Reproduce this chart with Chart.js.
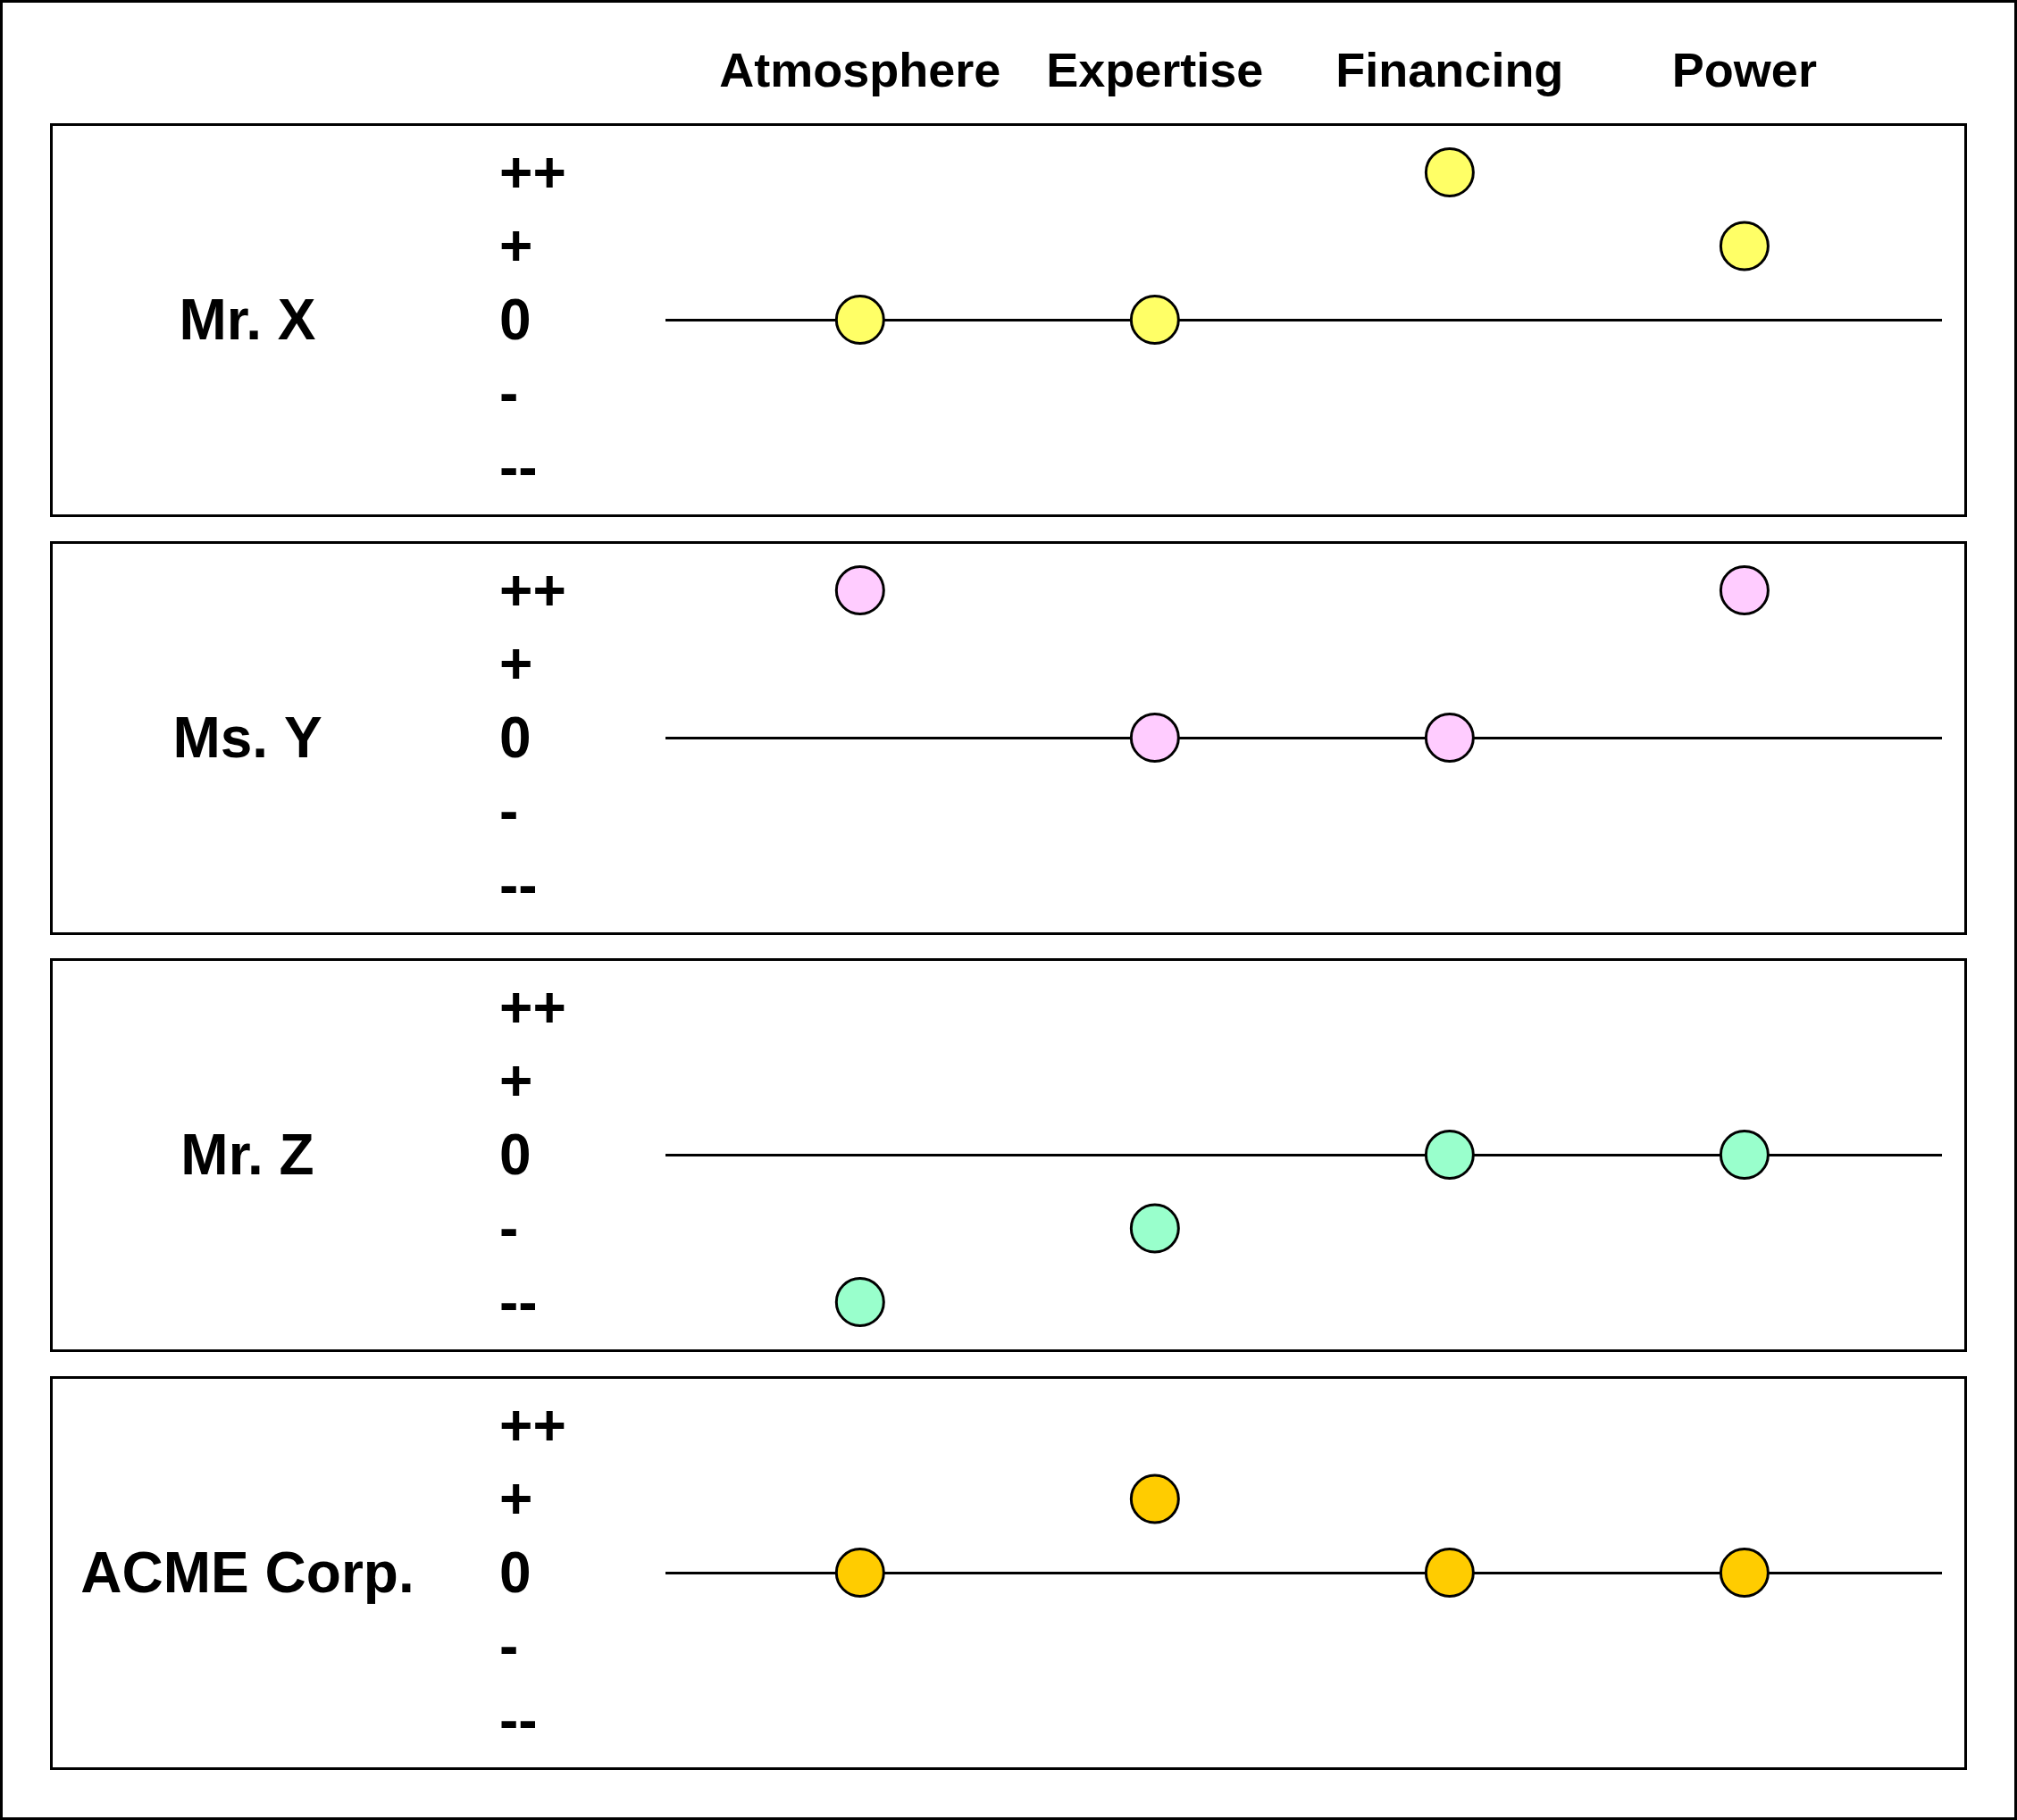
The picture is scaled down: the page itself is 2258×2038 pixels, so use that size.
<!DOCTYPE html>
<html lang="en">
<head>
  <meta charset="UTF-8">
  <title>Stakeholder ratings</title>
  <script src="https://cdn.jsdelivr.net/npm/chart.js@4.4.1/dist/chart.umd.min.js"></script>
  <style>
    html, body { margin: 0; padding: 0; background: #fff; }
    body { width: 2258px; height: 2038px; position: relative; overflow: hidden;
           font-family: "Liberation Sans", Arial, sans-serif; }
    #frame { position: absolute; left: 0; top: 0; width: 2258px; height: 2038px;
             border: 3px solid #000; box-sizing: border-box; }
    .panel { position: absolute; left: 56px; width: 2146px; height: 441px;
             border: 3px solid #000; box-sizing: border-box; }
    .panel canvas { display: block; }
    .head { position: absolute; top: 48px; font-weight: bold; font-size: 54px;
            line-height: 60px; transform: translateX(-50%); white-space: nowrap; }
  </style>
</head>
<body>
  <div id="frame"></div>
  <div id="heads"></div>
  <div id="panels"></div>

  <script>
    // categories along the top
    const categories = ['Atmosphere', 'Expertise', 'Financing', 'Power'];
    // one row per stakeholder
    const stakeholders = ['Mr. X', 'Ms. Y', 'Mr. Z', 'ACME Corp.'];
    // rating scale, -2 .. +2
    const tickLabels = ['--', '-', '0', '+', '++'];

    const mrX  = [0, 0, 2, 1];
    const msY  = [2, 0, 0, 2];
    const mrZ  = [-2, -1, 0, 0];
    const acme = [0, 1, 0, 0];

    const ratings = [mrX, msY, mrZ, acme];
    const fills = ['#ffff66', '#ffccff', '#99ffcc', '#ffcc00'];

    const panelTops = [138, 606, 1073, 1541];
    const FONT = '"Liberation Sans", Arial, sans-serif';
    const TEXT_NUDGE = 4; // glyphs sit a little lower than canvas 'middle'

    // draws the stakeholder name left of the scale, level with 0
    const rowLabel = {
      id: 'rowLabel',
      beforeDraw(chart) {
        // push the y tick labels down a few px so the digits centre on the line
        chart.scales.y.getLabelItems(chart.chartArea).forEach(it => {
          if (!it._nudged) {
            it.options.translation[1] += TEXT_NUDGE;
            it._nudged = true;
          }
        });
      },
      afterDraw(chart, args, opts) {
        const { ctx } = chart;
        const y = chart.scales.y.getPixelForValue(0);
        ctx.save();
        ctx.font = 'bold 64px ' + FONT;
        ctx.fillStyle = '#000';
        ctx.textAlign = 'center';
        ctx.textBaseline = 'middle';
        ctx.fillText(opts.text, 218, y + TEXT_NUDGE);
        ctx.restore();
      }
    };

    const charts = [];

    stakeholders.forEach((name, i) => {
      const panel = document.createElement('div');
      panel.className = 'panel';
      panel.style.top = panelTops[i] + 'px';
      const canvas = document.createElement('canvas');
      canvas.width = 2140;
      canvas.height = 435;
      panel.appendChild(canvas);
      document.getElementById('panels').appendChild(panel);

      const points = ratings[i].map((v, j) => ({ x: j, y: v }));

      charts.push(new Chart(canvas.getContext('2d'), {
        type: 'scatter',
        data: {
          datasets: [{
            label: name,
            data: points,
            backgroundColor: fills[i],
            borderColor: '#000',
            borderWidth: 3,
            pointRadius: 26.5,
            pointHoverRadius: 26.5,
            clip: false
          }]
        },
        options: {
          responsive: false,
          animation: false,
          devicePixelRatio: 1,
          layout: {
            autoPadding: false,
            padding: { left: 500, right: 25, top: 52, bottom: 53 }
          },
          plugins: {
            legend: { display: false },
            tooltip: { enabled: false },
            rowLabel: { text: name }
          },
          scales: {
            x: {
              type: 'linear',
              min: -0.66,
              max: 3.67,
              display: false
            },
            y: {
              min: -2,
              max: 2,
              afterFit(scale) { scale.width = 186; },
              border: { display: false },
              grid: {
                drawTicks: false,
                lineWidth: 3,
                color: ctx => (ctx.tick && ctx.tick.value === 0) ? '#000' : 'rgba(0,0,0,0)'
              },
              ticks: {
                stepSize: 1,
                crossAlign: 'far',
                padding: 0,
                color: '#000',
                font: { family: FONT, size: 64, weight: 'bold' },
                callback: v => tickLabels[v + 2]
              }
            }
          }
        },
        plugins: [rowLabel]
      }));
    });

    // column headings, centred over each category position
    const first = charts[0];
    const heads = document.getElementById('heads');
    categories.forEach((c, j) => {
      const d = document.createElement('div');
      d.className = 'head';
      d.textContent = c;
      d.style.left = (59 + first.scales.x.getPixelForValue(j)) + 'px';
      heads.appendChild(d);
    });
  </script>
</body>
</html>
